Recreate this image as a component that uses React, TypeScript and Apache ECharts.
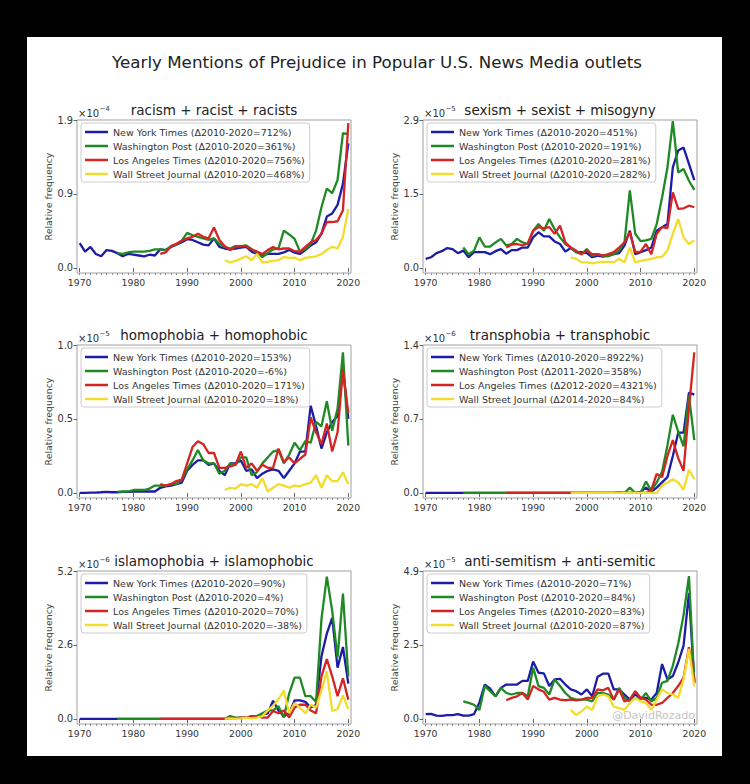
import React, { useEffect, useRef } from "react";
import * as echarts from "echarts";

const YEARS = [
  1970, 1971, 1972, 1973, 1974, 1975, 1976, 1977, 1978, 1979,
  1980, 1981, 1982, 1983, 1984, 1985, 1986, 1987, 1988, 1989,
  1990, 1991, 1992, 1993, 1994, 1995, 1996, 1997, 1998, 1999,
  2000, 2001, 2002, 2003, 2004, 2005, 2006, 2007, 2008, 2009,
  2010, 2011, 2012, 2013, 2014, 2015, 2016, 2017, 2018, 2019,
  2020,
];
const X_MAJOR_TICKS = [1970, 1980, 1990, 2000, 2010, 2020];

const OUTLETS = ["New York Times", "Washington Post", "Los Angeles Times", "Wall Street Journal"];
const START_YEARS = [1970, 1977, 1985, 1997];
const COLORS = ["#1c1ca6", "#1f8a24", "#d42424", "#f3dc2c"];

const MAIN_TITLE = "Yearly Mentions of Prejudice in Popular U.S. News Media outlets";
const PANEL_TITLES = [
  "racism + racist + racists",
  "sexism + sexist + misogyny",
  "homophobia + homophobic",
  "transphobia + transphobic",
  "islamophobia + islamophobic",
  "anti-semitism + anti-semitic",
];
const EXPONENT_BASE = "×10";
const PANEL_EXPONENTS = ["−4", "−5", "−5", "−6", "−6", "−5"];
const PANEL_Y_MAX = [1.9, 2.9, 1.0, 1.4, 5.2, 4.9];
const PANEL_Y_TICK_LABELS = [
  ["0.0", "0.9", "1.9"],
  ["0.0", "1.5", "2.9"],
  ["0.0", "0.5", "1.0"],
  ["0.0", "0.7", "1.4"],
  ["0.0", "2.6", "5.2"],
  ["0.0", "2.5", "4.9"],
];
const LEGEND_DELTAS = [
  ["Δ2010-2020=712%", "Δ2010-2020=361%", "Δ2010-2020=756%", "Δ2010-2020=468%"],
  ["Δ2010-2020=451%", "Δ2010-2020=191%", "Δ2010-2020=281%", "Δ2010-2020=282%"],
  ["Δ2010-2020=153%", "Δ2010-2020=-6%", "Δ2010-2020=171%", "Δ2010-2020=18%"],
  ["Δ2010-2020=8922%", "Δ2011-2020=358%", "Δ2012-2020=4321%", "Δ2014-2020=84%"],
  ["Δ2010-2020=90%", "Δ2010-2020=4%", "Δ2010-2020=70%", "Δ2010-2020=-38%"],
  ["Δ2010-2020=71%", "Δ2010-2020=84%", "Δ2010-2020=83%", "Δ2010-2020=87%"],
];
const WATERMARK = "@DavidRozado";

// ---- racism + racist + racists (x1e-4)
const RACISM_NYT = [
  0.32, 0.21, 0.27, 0.18, 0.15, 0.23, 0.22, 0.19, 0.15, 0.18,
  0.17, 0.16, 0.15, 0.17, 0.16, 0.24, 0.23, 0.27, 0.30, 0.33,
  0.37, 0.36, 0.33, 0.30, 0.29, 0.38, 0.27, 0.25, 0.24, 0.25,
  0.26, 0.27, 0.21, 0.18, 0.16, 0.18, 0.18, 0.18, 0.20, 0.23,
  0.197, 0.18, 0.23, 0.29, 0.33, 0.44, 0.66, 0.70, 0.81, 1.08,
  1.60,
];
const RACISM_WAPO = [
  0.19, 0.18, 0.20,
  0.21, 0.21, 0.21, 0.22, 0.24, 0.24, 0.23, 0.28, 0.30, 0.35,
  0.45, 0.42, 0.40, 0.38, 0.36, 0.38, 0.31, 0.27, 0.25, 0.28,
  0.28, 0.29, 0.24, 0.20, 0.14, 0.19, 0.24, 0.25, 0.48, 0.43,
  0.373, 0.21, 0.24, 0.31, 0.48, 0.78, 1.02, 0.96, 1.13, 1.73,
  1.72,
];
const RACISM_LAT = [
  0.18, 0.20, 0.28, 0.31, 0.35,
  0.38, 0.40, 0.44, 0.40, 0.38, 0.52, 0.36, 0.28, 0.23, 0.27,
  0.28, 0.28, 0.24, 0.21, 0.18, 0.23, 0.27, 0.24, 0.25, 0.25,
  0.215, 0.21, 0.27, 0.33, 0.36, 0.44, 0.59, 0.59, 0.60, 0.74,
  1.86,
];
const RACISM_WSJ = [
  0.10, 0.07, 0.09,
  0.12, 0.15, 0.10, 0.18, 0.07, 0.08, 0.09, 0.10, 0.14, 0.13,
  0.134, 0.10, 0.13, 0.14, 0.15, 0.18, 0.23, 0.27, 0.25, 0.40,
  0.76,
];

// ---- sexism + sexist + misogyny (x1e-5)
const SEXISM_NYT = [
  0.18, 0.21, 0.29, 0.33, 0.39, 0.37, 0.29, 0.34, 0.21, 0.31,
  0.31, 0.31, 0.27, 0.33, 0.37, 0.28, 0.35, 0.35, 0.40, 0.40,
  0.60, 0.70, 0.62, 0.62, 0.52, 0.47, 0.32, 0.39, 0.31, 0.31,
  0.29, 0.21, 0.24, 0.22, 0.24, 0.27, 0.29, 0.44, 0.73, 0.27,
  0.31, 0.35, 0.40, 0.73, 0.80, 0.86, 1.97, 2.30, 2.36, 2.04,
  1.72,
];
const SEXISM_WAPO = [
  0.40, 0.27, 0.34,
  0.60, 0.42, 0.42, 0.50, 0.57, 0.44, 0.47, 0.57, 0.50, 0.47,
  0.73, 0.86, 0.73, 0.96, 0.76, 0.60, 0.47, 0.40, 0.31, 0.27,
  0.37, 0.24, 0.27, 0.24, 0.23, 0.27, 0.34, 0.50, 1.52, 0.67,
  0.525, 0.54, 0.57, 0.86, 1.38, 1.97, 2.88, 1.87, 1.94, 1.71,
  1.53,
];
const SEXISM_LAT = [
  0.40, 0.46, 0.47, 0.44, 0.48,
  0.73, 0.80, 0.78, 0.80, 0.67, 0.83, 0.50, 0.40, 0.34, 0.27,
  0.34, 0.27, 0.27, 0.24, 0.27, 0.31, 0.40, 0.50, 0.70, 0.31,
  0.32, 0.47, 0.27, 0.67, 0.80, 0.78, 1.48, 1.16, 1.17, 1.22,
  1.19,
];
const SEXISM_WSJ = [
  0.21, 0.18, 0.11,
  0.11, 0.09, 0.11, 0.12, 0.12, 0.11, 0.18, 0.11, 0.40, 0.11,
  0.14, 0.16, 0.18, 0.21, 0.22, 0.34, 0.67, 0.96, 0.60, 0.47,
  0.54,
];

// ---- homophobia + homophobic (x1e-5)
const HOMOPHOBIA_NYT = [
  0.0, 0.0, 0.002, 0.003, 0.005, 0.008, 0.005, 0.005, 0.007, 0.008,
  0.01, 0.01, 0.01, 0.01, 0.01, 0.035, 0.045, 0.05, 0.06, 0.07,
  0.15, 0.19, 0.22, 0.22, 0.19, 0.20, 0.15, 0.12, 0.20, 0.20,
  0.22, 0.15, 0.16, 0.10, 0.13, 0.15, 0.16, 0.15, 0.10, 0.15,
  0.20, 0.28, 0.28, 0.59, 0.45, 0.30, 0.41, 0.48, 0.52, 0.84,
  0.50,
];
const HOMOPHOBIA_WAPO = [
  0.007, 0.01, 0.01,
  0.02, 0.02, 0.02, 0.03, 0.05, 0.05, 0.05, 0.06, 0.06, 0.09,
  0.16, 0.22, 0.29, 0.22, 0.20, 0.20, 0.13, 0.15, 0.20, 0.19,
  0.24, 0.24, 0.12, 0.14, 0.20, 0.24, 0.28, 0.29, 0.20, 0.26,
  0.34, 0.29, 0.35, 0.34, 0.48, 0.45, 0.62, 0.42, 0.57, 0.95,
  0.32,
];
const HOMOPHOBIA_LAT = [
  0.06, 0.05, 0.06, 0.08, 0.09,
  0.20, 0.31, 0.35, 0.33, 0.27, 0.27, 0.17, 0.17, 0.18, 0.19,
  0.28, 0.17, 0.20, 0.15, 0.19, 0.17, 0.17, 0.30, 0.21, 0.24,
  0.20, 0.23, 0.26, 0.51, 0.41, 0.33, 0.47, 0.28, 0.41, 0.83,
  0.54,
];
const HOMOPHOBIA_WSJ = [
  0.02, 0.035, 0.03,
  0.06, 0.05, 0.06, 0.035, 0.10, 0.01, 0.035, 0.06, 0.05, 0.035,
  0.05, 0.045, 0.06, 0.07, 0.12, 0.035, 0.12, 0.08, 0.08, 0.14,
  0.06,
];

// ---- transphobia + transphobic (x1e-6)
const TRANSPHOBIA_NYT = [
  0, 0, 0, 0, 0, 0, 0, 0, 0, 0,
  0, 0, 0, 0, 0, 0, 0, 0, 0, 0,
  0, 0, 0, 0, 0, 0, 0, 0, 0, 0,
  0, 0, 0, 0, 0, 0, 0.005, 0, 0, 0,
  0.0103, 0.05, 0.01, 0.05, 0.10, 0.15, 0.35, 0.57, 0.57, 0.95,
  0.93,
];
const TRANSPHOBIA_WAPO = [
  0, 0, 0,
  0, 0, 0, 0, 0, 0, 0, 0, 0, 0,
  0, 0, 0, 0, 0, 0, 0, 0, 0, 0,
  0, 0, 0, 0, 0, 0, 0, 0, 0.05, 0,
  0, 0.109, 0.02, 0.10, 0.20, 0.45, 0.74, 0.58, 0.44, 0.92,
  0.50,
];
const TRANSPHOBIA_LAT = [
  0, 0, 0, 0, 0,
  0, 0, 0, 0, 0, 0, 0, 0, 0, 0,
  0, 0, 0, 0, 0, 0, 0, 0, 0, 0,
  0, 0, 0.03, 0.18, 0.15, 0.35, 0.50, 0.33, 0.21, 0.80,
  1.33,
];
const TRANSPHOBIA_WSJ = [
  0, 0, 0,
  0, 0, 0, 0, 0, 0, 0, 0, 0, 0,
  0, 0, 0, 0, 0.07, 0.10, 0.13, 0.10, 0.03, 0.22,
  0.13,
];

// ---- islamophobia + islamophobic (x1e-6)
const ISLAMOPHOBIA_NYT = [
  0, 0, 0, 0, 0, 0, 0, 0, 0, 0,
  0, 0, 0, 0, 0, 0, 0, 0, 0, 0,
  0, 0, 0, 0, 0, 0, 0, 0, 0.02, 0.03,
  0.05, 0.05, 0.08, 0.10, 0.15, 0.20, 0.64, 0.30, 0.10, 0.20,
  0.65, 0.65, 0.60, 0.40, 0.50, 2.20, 3.00, 3.55, 1.80, 2.53,
  1.24,
];
const ISLAMOPHOBIA_WAPO = [
  0, 0, 0,
  0, 0, 0, 0, 0, 0, 0, 0, 0, 0,
  0, 0, 0, 0, 0, 0, 0, 0, 0.10, 0.05,
  0.03, 0.05, 0.10, 0.10, 0.20, 0.30, 0.30, 0.45, 0.05, 0.90,
  1.45, 1.45, 0.80, 0.80, 0.60, 3.50, 5.00, 3.80, 2.16, 4.41,
  1.50,
];
const ISLAMOPHOBIA_LAT = [
  0, 0, 0, 0, 0,
  0, 0, 0, 0, 0, 0, 0, 0, 0.05, 0.03,
  0.05, 0.05, 0.08, 0.10, 0.05, 0.05, 0.28, 0.20, 0.30, 0.05,
  0.40, 0.50, 0.50, 0.30, 0.20, 1.50, 2.10, 1.50, 0.80, 1.43,
  0.68,
];
const ISLAMOPHOBIA_WSJ = [
  0, 0.02, 0,
  0.02, 0.05, 0.02, 0.05, 0.10, 0.30, 0.46, 0.70, 1.00, 0.20,
  0.56, 0.40, 0.20, 0.50, 0.40, 1.00, 1.68, 0.28, 0.35, 0.83,
  0.35,
];

// ---- anti-semitism + anti-semitic (x1e-5)
const ANTISEMITISM_NYT = [
  0.16, 0.17, 0.11, 0.10, 0.13, 0.13, 0.16, 0.11, 0.11, 0.16,
  0.55, 1.14, 1.00, 0.75, 1.03, 1.14, 1.14, 1.14, 1.26, 1.26,
  1.90, 1.53, 1.51, 1.09, 1.31, 1.33, 1.14, 0.98, 0.92, 0.81,
  0.98, 0.75, 1.40, 1.50, 1.50, 0.98, 0.98, 0.81, 0.64, 0.81,
  0.70, 0.70, 0.64, 0.86, 1.82, 1.31, 1.42, 1.87, 2.43, 4.17,
  1.20,
];
const ANTISEMITISM_WAPO = [
  0.58, 0.53, 0.47,
  0.30, 1.09, 0.92, 0.75, 1.03, 0.86, 0.81, 0.86, 0.86, 0.75,
  1.70, 1.09, 1.03, 0.81, 1.31, 1.09, 0.86, 0.70, 0.64, 0.64,
  0.64, 0.58, 0.86, 0.86, 0.81, 0.64, 1.03, 0.70, 0.58, 0.70,
  0.64, 0.86, 0.58, 0.70, 1.20, 1.26, 1.76, 2.49, 3.44, 4.73,
  1.18,
];
const ANTISEMITISM_LAT = [
  0.62, 0.70, 0.75, 0.86, 0.64,
  1.09, 0.98, 0.90, 0.64, 0.70, 0.64, 0.62, 0.64, 0.62, 0.64,
  0.70, 0.70, 0.98, 0.95, 1.03, 0.64, 0.98, 0.58, 0.64, 0.92,
  0.70, 0.64, 0.47, 0.47, 0.53, 0.70, 0.86, 1.09, 1.37, 2.38,
  1.28,
];
const ANTISEMITISM_WSJ = [
  0.30, 0.13, 0.25,
  0.41, 0.30, 0.75, 0.81, 0.75, 0.41, 0.36, 0.30, 0.53, 0.70,
  0.58, 0.53, 0.30, 0.64, 0.98, 0.86, 0.81, 0.70, 1.31, 2.32,
  1.08,
];

const PANEL_SERIES = [
  [RACISM_NYT, RACISM_WAPO, RACISM_LAT, RACISM_WSJ],
  [SEXISM_NYT, SEXISM_WAPO, SEXISM_LAT, SEXISM_WSJ],
  [HOMOPHOBIA_NYT, HOMOPHOBIA_WAPO, HOMOPHOBIA_LAT, HOMOPHOBIA_WSJ],
  [TRANSPHOBIA_NYT, TRANSPHOBIA_WAPO, TRANSPHOBIA_LAT, TRANSPHOBIA_WSJ],
  [ISLAMOPHOBIA_NYT, ISLAMOPHOBIA_WAPO, ISLAMOPHOBIA_LAT, ISLAMOPHOBIA_WSJ],
  [ANTISEMITISM_NYT, ANTISEMITISM_WAPO, ANTISEMITISM_LAT, ANTISEMITISM_WSJ],
];

const FONT = "'DejaVu Sans', 'Liberation Sans', sans-serif";

export default function App() {
  const ref = useRef<HTMLDivElement>(null);

  useEffect(() => {
    if (!ref.current) return;
    const chart = echarts.init(ref.current, null, { renderer: "svg" });

    const colLeft = [77, 423];
    const rowTop = [120, 345, 571];
    const gw = 274;
    const gh = 153;

    const grids: any[] = [];
    const xAxes: any[] = [];
    const yAxes: any[] = [];
    const series: any[] = [];
    const legends: any[] = [];
    const graphics: any[] = [
      { type: "rect", shape: { x: 27, y: 37, width: 695, height: 719 }, style: { fill: "#ffffff" }, z: -10 },
      {
        type: "text",
        x: 377,
        y: 62,
        style: { text: MAIN_TITLE, font: `16.7px ${FONT}`, fill: "#222", textAlign: "center", textVerticalAlign: "middle" },
      },
    ];

    PANEL_TITLES.forEach((title, p) => {
      const left = colLeft[p % 2];
      const top = rowTop[Math.floor(p / 2)];
      const yMax = PANEL_Y_MAX[p];
      const yTicks = [0, yMax / 2, yMax];
      const labels = PANEL_Y_TICK_LABELS[p];

      grids.push({ left, top, width: gw, height: gh, show: true, borderColor: "#a0a0a0", borderWidth: 1, backgroundColor: "transparent" });

      xAxes.push({
        type: "value",
        gridIndex: p,
        min: 1969.5,
        max: 2020.5,
        axisLine: { show: false },
        splitLine: { show: false },
        axisTick: { show: true, customValues: X_MAJOR_TICKS, length: 4, lineStyle: { color: "#666", width: 1 } },
        axisLabel: {
          show: true,
          customValues: X_MAJOR_TICKS,
          fontSize: 9.3,
          color: "#333",
          margin: 5,
          fontFamily: FONT,
          formatter: (v: number) => String(Math.round(v)),
        },
      });
      xAxes.push({
        type: "value",
        gridIndex: p,
        min: 1969.5,
        max: 2020.5,
        position: "bottom",
        axisLine: { show: false },
        splitLine: { show: false },
        axisTick: { show: true, customValues: YEARS, length: 2, lineStyle: { color: "#777", width: 0.8 } },
        axisLabel: { show: false },
      });

      yAxes.push({
        type: "value",
        gridIndex: p,
        min: -yMax * 0.034,
        max: yMax,
        axisLine: { show: false },
        splitLine: { show: false },
        axisTick: { show: true, customValues: yTicks, length: 3.5, lineStyle: { color: "#666", width: 1 } },
        axisLabel: {
          show: true,
          customValues: yTicks,
          fontSize: 9.8,
          color: "#333",
          margin: 4,
          fontFamily: FONT,
          formatter: (v: number) => {
            const k = yTicks.findIndex((t) => Math.abs(t - v) < 1e-9);
            return k >= 0 ? labels[k] : "";
          },
        },
        name: "Relative frequency",
        nameLocation: "middle",
        nameGap: 24,
        nameTextStyle: { fontSize: 9.4, color: "#444", fontFamily: FONT },
      });

      const names: string[] = [];
      OUTLETS.forEach((outlet, o) => {
        const name = `${outlet} (${LEGEND_DELTAS[p][o]})`;
        names.push(name);
        const start = YEARS.indexOf(START_YEARS[o]);
        const values = PANEL_SERIES[p][o];
        series.push({
          type: "line",
          name,
          xAxisIndex: p * 2,
          yAxisIndex: p,
          data: values.map((v, k) => [YEARS[start + k], v]),
          showSymbol: false,
          symbol: "none",
          lineStyle: { width: 2.3, color: COLORS[o] },
          itemStyle: { color: COLORS[o] },
          z: 2 + o,
          silent: true,
        });
      });

      legends.push({
        data: names,
        left: left + 4,
        top: top + 3,
        orient: "vertical",
        icon: "rect",
        itemWidth: 23,
        itemHeight: 2.5,
        itemGap: 4,
        padding: [4, 5, 3, 4],
        backgroundColor: "rgba(255,255,255,0.85)",
        borderColor: "#cccccc",
        borderWidth: 1,
        borderRadius: 3,
        selectedMode: false,
        textStyle: { fontSize: 9.5, color: "#333", fontFamily: FONT, lineHeight: 10 },
      });

      graphics.push({
        type: "text",
        x: left + gw / 2,
        y: top - 10,
        style: { text: title, font: `13.5px ${FONT}`, fill: "#222", textAlign: "center", textVerticalAlign: "middle" },
      });
      graphics.push({
        type: "text",
        x: left + 1,
        y: top - 7,
        style: { text: EXPONENT_BASE, font: `10px ${FONT}`, fill: "#333", textAlign: "left", textVerticalAlign: "middle" },
      });
      graphics.push({
        type: "text",
        x: left + 22.5,
        y: top - 11,
        style: { text: PANEL_EXPONENTS[p], font: `7px ${FONT}`, fill: "#333", textAlign: "left", textVerticalAlign: "middle" },
      });
    });

    graphics.push({
      type: "text",
      x: colLeft[1] + gw - 2,
      y: rowTop[2] + gh - 9,
      style: { text: WATERMARK, font: `11px ${FONT}`, fill: "#c4c4c4", textAlign: "right", textVerticalAlign: "middle" },
      z: 10,
    });

    chart.setOption({
      animation: false,
      backgroundColor: "#000000",
      grid: grids,
      xAxis: xAxes,
      yAxis: yAxes,
      legend: legends,
      series,
      graphic: graphics,
    });

    return () => chart.dispose();
  }, []);

  return <div ref={ref} style={{ position: "fixed", left: 0, top: 0, width: 750, height: 784 }} />;
}
